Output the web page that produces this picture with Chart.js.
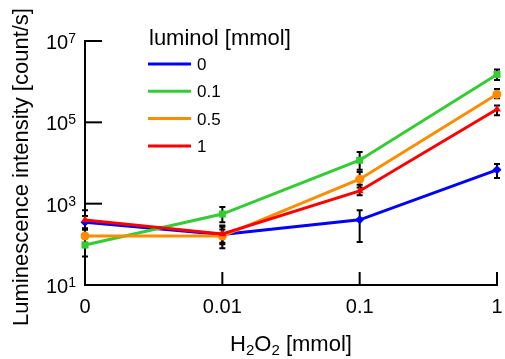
<!DOCTYPE html>
<html>
<head>
<meta charset="utf-8">
<script src="https://cdn.jsdelivr.net/npm/chart.js@4.4.1/dist/chart.umd.min.js"></script>
<style>
  html, body { margin: 0; padding: 0; background: #fff; }
  canvas { display: block; }
</style>
</head>
<body>
<canvas id="chart" width="505" height="359"></canvas>
<script>
// H2O2 concentration categories (x axis)
const xLabels = ['0', '0.01', '0.1', '1'];
// y axis decades shown as ticks
const yTicks = [10, 1e3, 1e5, 1e7];

// luminol concentration for each series
const seriesNames = ['0', '0.1', '0.5', '1'];
const seriesColors = ['#0000ff', '#33cc33', '#ff8c00', '#ff0000'];
const seriesMarkers = ['rectRot', 'rect', 'circle', 'triangle'];

// mean values
const lum0 = [350, 175, 400, 6800];
const lum01 = [96, 555, 11700, 1.5e6];
const lum05 = [160, 160, 4000, 4.9e5];
const lum1 = [395, 180, 2050, 2.1e5];

// error bar bounds
const lum0Lo = [250, 110, 114, 4300];
const lum0Hi = [500, 270, 690, 9400];
const lum01Lo = [50, 350, 6800, 1.1e6];
const lum01Hi = [150, 830, 18600, 2.0e6];
const lum05Lo = [110, 80, 2500, 3.9e5];
const lum05Hi = [230, 230, 6000, 6.6e5];
const lum1Lo = [230, 100, 1600, 1.5e5];
const lum1Hi = [690, 290, 2900, 2.6e5];

const seriesValues = [lum0, lum01, lum05, lum1];
const seriesLo = [lum0Lo, lum01Lo, lum05Lo, lum1Lo];
const seriesHi = [lum0Hi, lum01Hi, lum05Hi, lum1Hi];
const drawOrder = [3, 2, 1, 0]; // red on top

const FONT = '"Liberation Sans", Arial, sans-serif';

// black error bars with caps, behind the markers
const errorBars = {
    id: 'errorBars',
    beforeDatasetsDraw(chart) {
        const ctx = chart.ctx;
        const y = chart.scales.y;
        ctx.save();
        ctx.strokeStyle = '#000';
        ctx.lineWidth = 2;
        chart.data.datasets.forEach((ds, i) => {
            const meta = chart.getDatasetMeta(i);
            meta.data.forEach((pt, j) => {
                const top = y.getPixelForValue(seriesHi[i][j]);
                const bot = y.getPixelForValue(seriesLo[i][j]);
                ctx.beginPath();
                ctx.moveTo(pt.x, top); ctx.lineTo(pt.x, bot);
                ctx.moveTo(pt.x - 3, top); ctx.lineTo(pt.x + 3, top);
                ctx.moveTo(pt.x - 3, bot); ctx.lineTo(pt.x + 3, bot);
                ctx.stroke();
            });
        });
        ctx.restore();
    }
};

// inward ticks, labels with exponents, axis titles and the legend
const decorations = {
    id: 'decorations',
    afterDraw(chart) {
        const ctx = chart.ctx;
        const {x, y} = chart.scales;
        const area = chart.chartArea;
        ctx.save();
        ctx.fillStyle = '#000';
        ctx.strokeStyle = '#000';
        ctx.lineWidth = 2;

        // y ticks + labels
        yTicks.forEach(v => {
            const py = y.getPixelForValue(v);
            if (v !== yTicks[0]) {
                ctx.beginPath();
                ctx.moveTo(area.left, py); ctx.lineTo(area.left + 17, py);
                ctx.stroke();
            }
            const exp = String(Math.round(Math.log10(v)));
            ctx.font = '14px ' + FONT;
            const ew = ctx.measureText(exp).width;
            ctx.textAlign = 'left';
            ctx.textBaseline = 'alphabetic';
            ctx.fillText(exp, 76 - ew, py + 2);
            ctx.font = '20px ' + FONT;
            ctx.textAlign = 'right';
            ctx.fillText('10', 76 - ew, py + 8);
        });

        // x ticks + labels
        xLabels.forEach((lab, i) => {
            const px = x.getPixelForValue(i);
            if (i > 0) {
                ctx.beginPath();
                ctx.moveTo(px, area.bottom); ctx.lineTo(px, area.bottom - 13);
                ctx.stroke();
            }
            ctx.font = '20px ' + FONT;
            ctx.textAlign = 'center';
            ctx.textBaseline = 'alphabetic';
            ctx.fillText(lab, px, 313);
        });

        // x title with subscripts
        const parts = [['H', 22, 0], ['2', 15, 4], ['O', 22, 0], ['2', 15, 4], [' [mmol]', 22, 0]];
        let total = 0;
        parts.forEach(p => { ctx.font = p[1] + 'px ' + FONT; total += ctx.measureText(p[0]).width; });
        let cx = (area.left + area.right) / 2 - total / 2;
        ctx.textAlign = 'left';
        parts.forEach(p => {
            ctx.font = p[1] + 'px ' + FONT;
            ctx.fillText(p[0], cx, 351 + p[2]);
            cx += ctx.measureText(p[0]).width;
        });

        // y title
        ctx.save();
        ctx.translate(28, 167);
        ctx.rotate(-Math.PI / 2);
        ctx.font = '22px ' + FONT;
        ctx.textAlign = 'center';
        ctx.fillText('Luminescence intensity [count/s]', 0, 0);
        ctx.restore();

        // legend
        ctx.font = '22px ' + FONT;
        ctx.textAlign = 'left';
        ctx.fillText('luminol [mmol]', 149, 45);
        ctx.lineWidth = 3;
        seriesNames.forEach((name, i) => {
            const ly = 64 + i * 27.3;
            ctx.strokeStyle = seriesColors[i];
            ctx.beginPath();
            ctx.moveTo(148, ly); ctx.lineTo(191, ly);
            ctx.stroke();
            ctx.font = '17px ' + FONT;
            ctx.fillText(name, 197, ly + 6);
        });
        ctx.restore();
    }
};

new Chart(document.getElementById('chart'), {
    type: 'line',
    data: {
        labels: xLabels,
        datasets: seriesNames.map((name, i) => ({
            label: name,
            data: seriesValues[i],
            borderColor: seriesColors[i],
            backgroundColor: seriesColors[i],
            borderWidth: 3,
            pointStyle: seriesMarkers[i],
            pointRadius: seriesMarkers[i] === 'rect' ? 5 : 4.5,
            pointBorderWidth: 0,
            order: drawOrder[i],
            tension: 0
        }))
    },
    options: {
        responsive: false,
        animation: false,
        layout: { padding: { left: 0, top: 41, right: 8, bottom: 0 } },
        plugins: {
            legend: { display: false },
            tooltip: { enabled: false }
        },
        scales: {
            x: {
                type: 'category',
                offset: false,
                grid: { display: false },
                border: { display: true, color: '#000', width: 2 },
                ticks: { display: false },
                afterFit: s => { s.height = 74; }
            },
            y: {
                type: 'logarithmic',
                min: 10,
                max: 1e7,
                grid: { display: false },
                border: { display: true, color: '#000', width: 2 },
                ticks: { display: false },
                afterBuildTicks: s => { s.ticks = yTicks.map(v => ({ value: v })); },
                afterFit: s => { s.width = 85; }
            }
        }
    },
    plugins: [errorBars, decorations]
});
</script>
</body>
</html>
